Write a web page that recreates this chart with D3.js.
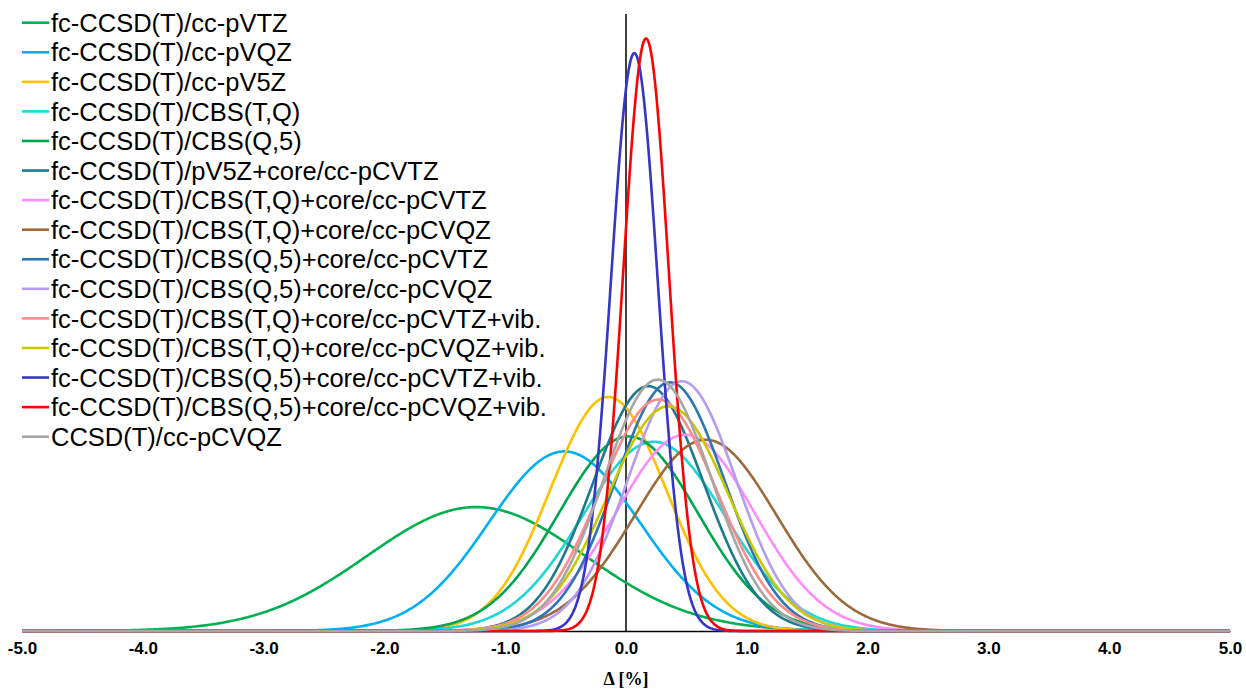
<!DOCTYPE html>
<html><head><meta charset="utf-8">
<script src="https://cdn.jsdelivr.net/npm/d3@7"></script>
<style>body{margin:0;background:#fff;} svg{display:block;}</style>
</head><body>
<svg id="chart" width="1246" height="690"></svg>
<script>
// Series: normal distributions of relative errors Δ [%]
const seriesNames = [
  "fc-CCSD(T)/cc-pVTZ",
  "fc-CCSD(T)/cc-pVQZ",
  "fc-CCSD(T)/cc-pV5Z",
  "fc-CCSD(T)/CBS(T,Q)",
  "fc-CCSD(T)/CBS(Q,5)",
  "fc-CCSD(T)/pV5Z+core/cc-pCVTZ",
  "fc-CCSD(T)/CBS(T,Q)+core/cc-pCVTZ",
  "fc-CCSD(T)/CBS(T,Q)+core/cc-pCVQZ",
  "fc-CCSD(T)/CBS(Q,5)+core/cc-pCVTZ",
  "fc-CCSD(T)/CBS(Q,5)+core/cc-pCVQZ",
  "fc-CCSD(T)/CBS(T,Q)+core/cc-pCVTZ+vib.",
  "fc-CCSD(T)/CBS(T,Q)+core/cc-pCVQZ+vib.",
  "fc-CCSD(T)/CBS(Q,5)+core/cc-pCVTZ+vib.",
  "fc-CCSD(T)/CBS(Q,5)+core/cc-pCVQZ+vib.",
  "CCSD(T)/cc-pCVQZ"
];
const seriesMean = [-1.24, -0.51, -0.147, 0.23, 0.02, 0.185, 0.49, 0.66, 0.365, 0.463, 0.268, 0.351, 0.069, 0.166, 0.263];
const seriesSD   = [0.903, 0.623, 0.478, 0.591, 0.575, 0.457, 0.570, 0.585, 0.450, 0.448, 0.4835, 0.498, 0.1936, 0.1888, 0.445];
const seriesColors = ["#00B050","#00B0F0","#FFC000","#1ED6D6","#00A550","#1D7A8C","#FF8CFF","#9C6A3A","#2E75B6","#B49CF0","#FF8A8A","#C8C800","#3535C8","#FF0000","#A6A6A6"];
const xTicks = [-5,-4,-3,-2,-1,0,1,2,3,4,5];
const xTickLabels = ["-5.0","-4.0","-3.0","-2.0","-1.0","0.0","1.0","2.0","3.0","4.0","5.0"];
const xTitle = "Δ [%]";

const svg = d3.select("#chart");
const x = d3.scaleLinear().domain([-5,5]).range([22,1230]);
const y = d3.scaleLinear().domain([0,2.2]).range([631,14]);

const pdf = (v, m, s) => Math.exp(-0.5*((v-m)/s)**2)/(s*Math.sqrt(2*Math.PI));
const grid = d3.range(-5, 5.0001, 0.01);

// vertical axis at 0
svg.append("line").attr("x1",x(0)).attr("x2",x(0)).attr("y1",y(2.2)).attr("y2",y(0))
  .attr("stroke","#000").attr("stroke-width",1.5);

// x axis
const xAxis = d3.axisBottom(x).tickValues(xTicks).tickFormat((d,i)=>xTickLabels[i]).tickSize(0).tickPadding(11);
const gx = svg.append("g").attr("transform",`translate(0,${y(0)})`).call(xAxis);
gx.select(".domain").attr("stroke","#000").attr("stroke-width",1.5);
gx.selectAll("text").attr("font-family","Liberation Sans, Arial, sans-serif").attr("font-weight","bold")
  .attr("font-size","17px").attr("fill","#000");

const line = d3.line().x(d=>x(d[0])).y(d=>y(d[1])).curve(d3.curveLinear);
seriesNames.forEach((name,i)=>{
  const pts = grid.map(v=>[v, pdf(v, seriesMean[i], seriesSD[i])]);
  svg.append("path").datum(pts).attr("d",line).attr("fill","none")
    .attr("stroke",seriesColors[i]).attr("stroke-width",2.6).attr("stroke-linejoin","round");
});

svg.append("text").attr("x",x(0)).attr("y",685).attr("text-anchor","middle")
  .attr("font-family","Liberation Serif, Times New Roman, serif").attr("font-weight","bold")
  .attr("font-size","18px").text(xTitle);

// legend
const lg = svg.append("g");
seriesNames.forEach((name,i)=>{
  const cy = 22.7 + i*29.57;
  lg.append("line").attr("x1",22).attr("x2",49).attr("y1",cy).attr("y2",cy)
    .attr("stroke",seriesColors[i]).attr("stroke-width",2.6);
  lg.append("text").attr("x",51).attr("y",cy+9.2)
    .attr("font-family","Liberation Sans, Arial, sans-serif").attr("font-size","25.5px")
    .attr("fill","#000").text(name);
});
</script>
</body></html>
